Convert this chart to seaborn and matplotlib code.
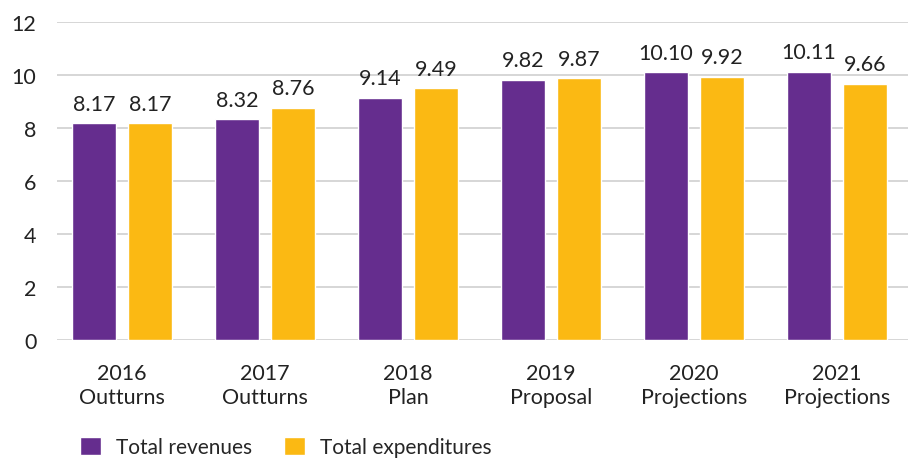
import pandas as pd
import numpy as np
import seaborn as sns
import matplotlib.pyplot as plt
from matplotlib.patches import Patch

# chart data
years = ['2016\nOutturns', '2017\nOutturns', '2018\nPlan', '2019\nProposal', '2020\nProjections', '2021\nProjections']
revenues = [8.17, 8.32, 9.14, 9.82, 10.10, 10.11]
expenditures = [8.17, 8.76, 9.49, 9.87, 9.92, 9.66]
series = ['Total revenues', 'Total expenditures']
y_ticks = [0, 2, 4, 6, 8, 10, 12]

purple = '#652d8e'
yellow = '#fbb913'
txt = '#222222'

df = pd.DataFrame({
    'year': years * 2,
    'value': revenues + expenditures,
    'series': [series[0]] * len(years) + [series[1]] * len(years),
})

sns.set_theme(style='white')
plt.rcParams['font.family'] = ['Lato', 'DejaVu Sans']

fig = plt.figure(figsize=(9.08, 4.6), dpi=100)
ax = fig.add_axes([0.063, 0.259, 0.937, 0.691])

sns.barplot(data=df, x='year', y='value', hue='series', ax=ax,
            palette=[purple, yellow], width=0.78, gap=0.21,
            saturation=1, legend=False)

# value labels
for cont in ax.containers:
    ax.bar_label(cont, fmt='%.2f', padding=7, fontsize=15.5, color=txt)

ax.set_ylim(0, 12)
ax.set_xlim(-0.455, 5.497)
ax.set_yticks(y_ticks)
ax.set_yticklabels([str(t) for t in y_ticks], fontsize=15.5, color=txt)
ax.tick_params(axis='x', labelsize=15.5, colors=txt, pad=11)
ax.tick_params(axis='y', pad=9)
for lbl in ax.get_xticklabels():
    lbl.set_linespacing(1.25)
ax.set_xlabel('')
ax.set_ylabel('')
ax.yaxis.grid(True, color='#d0d0d0', linewidth=1.2)
ax.set_axisbelow(True)
for s in ax.spines.values():
    s.set_visible(False)

# legend
color_patches = [
    Patch(facecolor=purple, label=series[0]),
    Patch(facecolor=yellow, label=series[1]),
]
fig.legend(handles=color_patches, loc='lower left', bbox_to_anchor=(0.088, 0.004),
           ncol=2, frameon=False, fontsize=15, handlelength=1.0, handleheight=1.0,
           handletextpad=0.75, columnspacing=1.5, borderaxespad=0, borderpad=0)

plt.savefig('out.png', dpi=100)
